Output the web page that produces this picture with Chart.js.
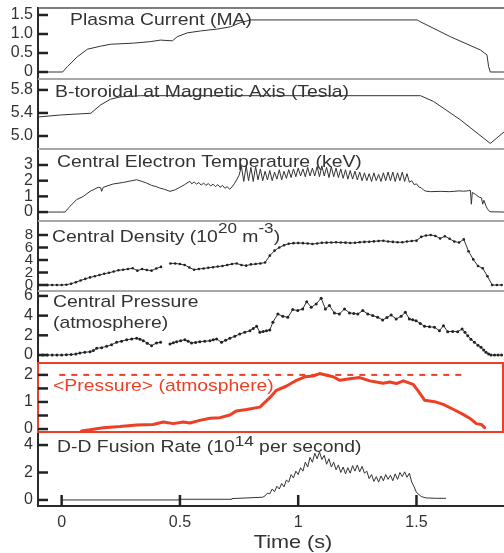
<!DOCTYPE html>
<html>
<head>
<meta charset="utf-8">
<title>Plasma discharge traces</title>
<script src="https://cdn.jsdelivr.net/npm/chart.js@4/dist/chart.umd.min.js"></script>
<style>
  html, body { margin: 0; padding: 0; background: #fff; }
  canvas { display: block; }
</style>
</head>
<body>
<canvas id="chart" width="504" height="553"></canvas>
<script>
// Data (time in seconds)

// Plasma current (MA)
const tCurrent = [-0.1, 0.004, 0.024, 0.066, 0.109, 0.165, 0.207, 0.304, 0.376, 0.418, 0.468, 0.489, 0.531, 0.587, 0.658, 0.714, 0.756, 0.799, 1.503, 1.517, 1.643, 1.77, 1.798, 1.805, 1.812, 1.87];
const vCurrent = [0, 0, 0.14, 0.40, 0.60, 0.68, 0.73, 0.76, 0.80, 0.84, 0.82, 0.93, 1.03, 1.08, 1.13, 1.19, 1.30, 1.37, 1.37, 1.32, 0.93, 0.58, 0.45, 0.14, 0, 0];

// B-toroidal at magnetic axis (T)
const tField = [-0.1, -0.004, 0.123, 0.165, 0.207, 0.249, 0.334, 1.517, 1.572, 1.686, 1.812, 1.87];
const vField = [5.33, 5.365, 5.395, 5.54, 5.64, 5.68, 5.70, 5.70, 5.60, 5.28, 4.87, 5.07];

// Central electron temperature (keV)
const tTemp = [-0.1, 0.0, 0.014, 0.035, 0.063, 0.092, 0.12, 0.155, 0.165, 0.169,
  0.176, 0.218, 0.261, 0.29, 0.317, 0.34, 0.359, 0.38, 0.4, 0.415,
  0.435, 0.458, 0.48, 0.5, 0.52, 0.53, 0.542, 0.55, 0.56, 0.57,
  0.58, 0.59, 0.6, 0.61, 0.62, 0.63, 0.64, 0.65, 0.66, 0.67,
  0.68, 0.69, 0.70, 0.71, 0.72, 0.73, 0.74, 0.75,
  0.76, 0.77, 0.78, 0.79, 0.80, 0.81, 0.82, 0.83, 0.84, 0.85,
  0.86, 0.87, 0.88, 0.89, 0.90, 0.91, 0.92, 0.93, 0.94, 0.95,
  0.96, 0.97, 0.98, 0.99, 1.00, 1.01, 1.02, 1.03, 1.04, 1.05,
  1.06, 1.07, 1.08, 1.09, 1.10, 1.11, 1.12, 1.13, 1.14, 1.15,
  1.16, 1.17, 1.18, 1.19, 1.20, 1.21, 1.22, 1.23, 1.24, 1.25,
  1.26, 1.27, 1.28, 1.29, 1.30, 1.31, 1.32, 1.33, 1.34, 1.35,
  1.36, 1.37, 1.38, 1.39, 1.40, 1.41, 1.42, 1.43, 1.44, 1.45,
  1.46, 1.47,
  1.48, 1.49, 1.50, 1.51, 1.52, 1.53, 1.54, 1.56, 1.60, 1.64,
  1.68, 1.70, 1.72, 1.728, 1.732, 1.736, 1.75, 1.765, 1.775, 1.78,
  1.785, 1.795, 1.80, 1.81, 1.87];
const vTemp = [0, 0, 0, 0.36, 0.79, 1.0, 1.32, 1.58, 1.55, 1.32,
  1.58, 1.79, 1.89, 1.98, 2.06, 1.95, 1.85, 1.7, 1.62, 1.53,
  1.45, 1.32, 1.42, 1.58, 1.75, 1.85, 1.96, 1.8, 1.92, 1.78,
  1.88, 1.72, 1.85, 1.7, 1.82, 1.66, 1.78, 1.62, 1.75, 1.58,
  1.7, 1.52, 1.62, 1.45, 1.6, 1.8, 2.06, 2.35,
  2.9, 1.95, 2.95, 2.0, 2.85, 1.95, 2.9, 2.05, 2.75, 2.0,
  2.6, 2.05, 2.65, 2.0, 2.55, 2.1, 2.7, 2.05, 2.6, 2.15,
  2.7, 2.2, 2.75, 2.25, 2.8, 2.3, 2.75, 2.25, 2.85, 2.3,
  2.8, 2.3, 2.9, 2.25, 2.95, 2.3, 2.85, 2.2, 2.9, 2.25,
  2.8, 2.2, 2.75, 2.15, 2.7, 2.1, 2.65, 2.1, 2.6, 2.05,
  2.55, 2.0, 2.5, 2.0, 2.45, 1.95, 2.5, 2.0, 2.4, 1.95,
  2.5, 2.0, 2.55, 2.0, 2.55, 1.95, 2.5, 2.0, 2.55, 1.95,
  2.45, 1.9,
  2.0, 1.75, 1.8, 1.6, 1.55, 1.4, 1.33, 1.3, 1.32, 1.3,
  1.35, 1.33, 1.36, 1.38, 0.5, 1.25, 1.12, 0.95, 0.9, 0.5,
  0.75, 0.35, 0.2, 0.02, 0];

// Central density (1e20 m^-3)
const tDensity = [-0.06, -0.04, -0.02, 0.00, 0.02, 0.04, 0.06, 0.08, 0.10, 0.12,
  0.14, 0.16, 0.18, 0.20, 0.22, 0.24, 0.26, 0.28, 0.30, 0.32,
  0.34, 0.36, 0.38, 0.40, 0.42, 0.44, 0.46, 0.48, 0.50, 0.52,
  0.54, 0.56, 0.58, 0.60, 0.62, 0.64, 0.66, 0.68, 0.70, 0.72,
  0.74, 0.76, 0.78, 0.80, 0.82, 0.84, 0.86, 0.88, 0.90, 0.92,
  0.94, 0.96, 0.98, 1.00, 1.02, 1.04, 1.06, 1.08, 1.10, 1.12,
  1.14, 1.16, 1.18, 1.20, 1.22, 1.24, 1.26, 1.28, 1.30, 1.32,
  1.34, 1.36, 1.38, 1.40, 1.42, 1.44, 1.46, 1.48, 1.50, 1.52,
  1.54, 1.56, 1.58, 1.60, 1.62, 1.64, 1.66, 1.68, 1.70, 1.72,
  1.74, 1.76, 1.78, 1.80, 1.82, 1.84, 1.86];
const vDensity = [0, 0, 0, 0, 0.05, 0.2, 0.45, 0.72, 0.98, 1.22,
  1.4, 1.6, 1.8, 1.95, 2.15, 2.35, 2.45, 2.55, 2.68, 2.3,
  2.55, 2.4, 2.3, 2.65, 2.9, null, 3.45, 3.45, 3.35, 3.2,
  2.8, 2.45, 2.55, 2.65, 2.75, 2.85, 2.95, 3.05, 3.2, 3.35,
  3.45, 3.2, 3.1, 3.3, 3.35, 3.45, 3.6, 4.7, 5.5, 6.0,
  6.35, 6.6, 6.7, 6.72, 6.7, 6.65, 6.55, 6.65, 6.75, 6.78,
  6.8, 6.83, 6.8, 6.78, 6.72, 6.75, 6.85, 6.9, 6.93, 6.98,
  7.05, 7.09, 6.95, 6.9, 6.85, 6.83, 6.95, 7.05, 7.1, 7.7,
  7.92, 8.0, 7.85, 7.45, 7.8, 7.4, 6.95, 6.8, 7.3, 5.4,
  4.1, 3.05, 2.67, 1.4, 0, 0, 0];

// Central pressure (atm)
const tPressure = [-0.1, -0.08, -0.06, -0.04, -0.02, 0.0, 0.02, 0.04, 0.06, 0.077,
  0.098, 0.12, 0.134, 0.148, 0.169, 0.19, 0.211, 0.232, 0.253, 0.275,
  0.296, 0.317, 0.331, 0.345, 0.362, 0.38, 0.401, 0.418, 0.44, 0.458,
  0.472, 0.486, 0.503, 0.521, 0.535, 0.549, 0.566, 0.584, 0.605, 0.627,
  0.641, 0.655, 0.676, 0.693, 0.711, 0.732, 0.753, 0.774, 0.796, 0.81,
  0.824, 0.838, 0.852, 0.866, 0.88, 0.893, 0.914, 0.935, 0.956, 0.977,
  0.998, 1.019, 1.036, 1.055, 1.076, 1.097, 1.115, 1.132, 1.153, 1.174,
  1.196, 1.217, 1.235, 1.252, 1.273, 1.294, 1.315, 1.336, 1.357, 1.375,
  1.393, 1.414, 1.435, 1.453, 1.47, 1.484, 1.498, 1.516, 1.534, 1.555,
  1.576, 1.597, 1.614, 1.632, 1.653, 1.674, 1.693, 1.705, 1.717, 1.73,
  1.745, 1.76, 1.773, 1.784, 1.794, 1.805, 1.815, 1.83, 1.845, 1.86];
const vPressure = [0, 0, 0, 0, 0, 0, 0.02, 0.05, 0.1, 0.2,
  0.27, 0.34, 0.45, 0.68, 0.75, 0.88, 1.05, 1.29, 1.4, 1.56,
  1.62, 1.70, 1.6, 1.46, 1.2, 0.95, 1.22, 1.29, null, 1.12,
  1.25, 1.36, 1.45, 1.56, 1.4, 1.22, 1.28, 1.36, 1.4, 1.46,
  1.55, 1.63, 1.29, 1.5, 1.70, 1.9, 2.14, 2.3, 2.47, 2.7,
  2.92, 2.31, 2.4, 2.47, 2.55, 3.33, 4.17, 3.93, 3.83, 4.61,
  4.51, 4.68, 5.42, 4.85, 5.19, 5.77, 4.68, 5.02, 4.27, 4.17,
  4.68, 4.27, 4.22, 4.17, 4.51, 4.17, 4.0, 3.83, 3.56, 3.8,
  4.07, 3.66, 3.93, 4.34, 3.66, 3.58, 3.49, 3.2, 2.92, 2.87,
  2.82, 2.47, 2.98, 2.37, 2.4, 2.37, 2.64, 2.3, 1.96, 1.6,
  1.29, 1.0, 0.78, 0.5, 0.27, 0.1, 0, 0, 0, 0];

// Volume averaged <Pressure> (atm) and its reference level
const tAvgPressure = [0.084, 0.12, 0.148, 0.176, 0.246, 0.317, 0.387, 0.43, 0.472, 0.514,
  0.542, 0.584, 0.627, 0.669, 0.711, 0.739, 0.782, 0.838, 0.88, 0.908,
  0.951, 0.993, 1.028, 1.063, 1.091, 1.12, 1.148, 1.176, 1.218, 1.26,
  1.303, 1.359, 1.387, 1.415, 1.444, 1.486, 1.507, 1.535, 1.577, 1.613,
  1.655, 1.697, 1.725, 1.753, 1.774, 1.788];
const vAvgPressure = [-0.07, -0.03, 0.01, 0.05, 0.09, 0.15, 0.17, 0.26, 0.20, 0.26,
  0.22, 0.32, 0.40, 0.42, 0.52, 0.67, 0.72, 0.81, 1.16, 1.43,
  1.59, 1.80, 1.93, 1.96, 2.05, 1.99, 1.93, 1.80, 1.86, 1.90,
  1.78, 1.69, 1.74, 1.68, 1.78, 1.65, 1.41, 1.06, 1.01, 0.91,
  0.73, 0.54, 0.40, 0.20, 0.17, 0.05];
const tRefLevel = [-0.01, 1.71];
const vRefLevel = [2, 2];

// D-D fusion rate (1e14 per second)
const tFusion = [0, 0.5, 0.5, 0.72, 0.72, 0.85,
  0.86, 0.87, 0.88, 0.89, 0.90, 0.91, 0.92, 0.93, 0.94, 0.95,
  0.96, 0.97, 0.98, 0.99, 1.00, 1.01, 1.02, 1.03, 1.04, 1.05,
  1.06, 1.07, 1.08, 1.09, 1.10, 1.11, 1.12, 1.13, 1.14, 1.15,
  1.16, 1.17, 1.18, 1.19, 1.20, 1.21, 1.22, 1.23, 1.24, 1.25,
  1.26, 1.27, 1.28, 1.29, 1.30, 1.31, 1.32, 1.33, 1.34, 1.35,
  1.36, 1.37, 1.38, 1.39, 1.40, 1.41, 1.42, 1.43, 1.44, 1.45,
  1.46, 1.47, 1.48, 1.49,
  1.50, 1.52, 1.54, 1.58, 1.625];
const vFusion = [0, 0, 0.05, 0.05, 0.1, 0.2,
  0.3, 0.5, 0.45, 0.8, 0.6, 1.0, 0.8, 1.2, 0.95, 1.45,
  1.3, 1.85, 1.6, 2.1, 1.85, 2.35, 2.1, 2.75, 2.4, 3.1,
  2.75, 3.4, 3.0, 3.5, 2.95, 3.25, 2.6, 3.0, 2.4, 2.75,
  2.2, 2.55, 2.0, 2.4, 1.9, 2.35, 1.95, 2.5, 2.1, 2.55,
  2.05, 2.45, 1.95, 2.1, 1.55, 1.85, 1.35, 1.7, 1.3, 1.75,
  1.4, 1.85, 1.5, 1.8, 1.4, 1.9, 1.5, 2.0, 1.7, 2.05,
  1.65, 1.95, 1.3, 0.95,
  0.55, 0.25, 0.15, 0.12, 0.12];

// Tick labels
const timeTicks = [0, 0.5, 1, 1.5];
const currentTicks = [0, 0.5, 1.0, 1.5];
const fieldTicks = [5.0, 5.4, 5.8];
const tempTicks = [0, 1, 2, 3];
const densityTicks = [0, 2, 4, 6, 8];
const pressureTicks = [0, 2, 4, 6];
const avgPressureTicks = [0, 0.5, 1, 1.5, 2];
const fusionTicks = [0, 2, 4];

// Style
const FONT = '"Liberation Sans", Arial, Helvetica, sans-serif';
const INK = '#333333';
const RED = '#ec3f26';
const TITLE_STRETCH = 1.14;

function series(ts, vs) {
  return ts.map((t, i) => ({ x: t, y: vs[i] }));
}

function panelAxis(order, height, min, max, ticks, fmt, opts = {}) {
  return {
    type: 'linear',
    position: 'left',
    stack: 'panels',
    stackWeight: height,
    weight: order,
    min: min,
    max: max,
    afterBuildTicks: scale => { scale.ticks = ticks.map(v => ({ value: v })); },
    afterFit: scale => {
      scale.width = 38;
      scale.paddingTop = 0;
      scale.paddingBottom = 0;
    },
    grid: { display: false, drawTicks: false },
    border: { display: true, color: opts.border || '#2a2a2a', width: 2 },
    ticks: {
      autoSkip: false,
      padding: 5,
      color: INK,
      font: { family: FONT, size: opts.fontSize || 16 },
      callback: fmt
    }
  };
}

const PANELS = ['yCurrent', 'yField', 'yTemp', 'yDensity', 'yPressure', 'yAvg', 'yFusion'];

// Panel titles (positions relative to the top of each panel)
const TITLES = [
  { id: 'yCurrent', x: 70, dy: 17, parts: [{ text: 'Plasma Current (MA)' }] },
  { id: 'yField', x: 55, dy: 18, parts: [{ text: 'B-toroidal at Magnetic Axis (Tesla)' }] },
  { id: 'yTemp', x: 57, dy: 18, parts: [{ text: 'Central Electron Temperature (keV)' }] },
  { id: 'yDensity', x: 52, dy: 21, parts: [
    { text: 'Central Density (10' }, { text: '20', size: 15, rise: 9 },
    { text: ' m' }, { text: '-3', size: 15, rise: 9 }, { text: ')' }] },
  { id: 'yPressure', x: 53, dy: 16, parts: [{ text: 'Central Pressure' }] },
  { id: 'yPressure', x: 53, dy: 37, parts: [{ text: '(atmosphere)' }] },
  { id: 'yAvg', x: 53, dy: 28, color: RED, parts: [{ text: '<Pressure> (atmosphere)' }] },
  { id: 'yFusion', x: 57, dy: 20, parts: [
    { text: 'D-D Fusion Rate (10' }, { text: '14', size: 15, rise: 6 },
    { text: ' per second)' }] }
];

function measureParts(ctx, parts) {
  let w = 0;
  parts.forEach(p => {
    ctx.font = (p.size || 17) + 'px ' + FONT;
    w += ctx.measureText(p.text).width;
  });
  return w * TITLE_STRETCH;
}

function drawTitle(ctx, x, y, parts, color) {
  ctx.save();
  ctx.fillStyle = color;
  ctx.textAlign = 'left';
  ctx.textBaseline = 'alphabetic';
  ctx.translate(x, y);
  ctx.scale(TITLE_STRETCH, 1);
  let cx = 0;
  parts.forEach(p => {
    ctx.font = (p.size || 17) + 'px ' + FONT;
    ctx.fillText(p.text, cx, -(p.rise || 0));
    cx += ctx.measureText(p.text).width;
  });
  ctx.restore();
}

const panelDecor = {
  id: 'panelDecor',
  beforeDatasetsDraw(chart) {
    const { ctx, chartArea: a } = chart;
    ctx.save();
    PANELS.forEach((id, i) => {
      const s = chart.scales[id];
      ctx.strokeStyle = i === 0 ? '#555555' : '#a8a8a8';
      ctx.lineWidth = i === 0 ? 1.5 : 2;
      ctx.beginPath();
      ctx.moveTo(a.left, s.top);
      ctx.lineTo(a.right, s.top);
      ctx.stroke();
    });
    const r = chart.scales.yAvg;
    ctx.strokeStyle = RED;
    ctx.lineWidth = 2;
    ctx.strokeRect(a.left, r.top, a.right - a.left - 1, r.bottom - r.top);
    ctx.restore();
  },
  afterDatasetsDraw(chart) {
    const { ctx, chartArea: a } = chart;
    ctx.save();
    ctx.strokeStyle = '#222222';
    ctx.lineWidth = 2.5;
    // tick marks point into the plot
    PANELS.forEach(id => {
      const s = chart.scales[id];
      s.ticks.forEach(t => {
        const y = s.getPixelForValue(t.value);
        ctx.beginPath();
        ctx.moveTo(a.left, y);
        ctx.lineTo(a.left + 10, y);
        ctx.stroke();
      });
    });
    const xs = chart.scales.x;
    xs.ticks.forEach(t => {
      const x = xs.getPixelForValue(t.value);
      ctx.beginPath();
      ctx.moveTo(x, a.bottom);
      ctx.lineTo(x, a.bottom - 11);
      ctx.stroke();
    });
    ctx.restore();

    TITLES.forEach(t => {
      const s = chart.scales[t.id];
      drawTitle(ctx, t.x, s.top + t.dy, t.parts, t.color || INK);
    });

    // x axis title, centred a little right of the axis middle as in the original
    const xTitle = [{ text: 'Time (s)', size: 19 }];
    const w = measureParts(ctx, xTitle);
    drawTitle(ctx, 293 - w / 2, xs.bottom - 5, xTitle, INK);
  }
};

const oneDecimal = v => (v === 0 ? '0' : v.toFixed(1));
const plain = v => String(v);

new Chart(document.getElementById('chart'), {
  type: 'line',
  data: {
    datasets: [
      { data: series(tCurrent, vCurrent), yAxisID: 'yCurrent', borderColor: INK, borderWidth: 1 },
      { data: series(tField, vField), yAxisID: 'yField', borderColor: INK, borderWidth: 1 },
      { data: series(tTemp, vTemp), yAxisID: 'yTemp', borderColor: INK, borderWidth: 1 },
      { data: series(tDensity, vDensity), yAxisID: 'yDensity', borderColor: INK, borderWidth: 1,
        pointRadius: 1.3, pointBorderWidth: 0, pointBackgroundColor: '#222222' },
      { data: series(tPressure, vPressure), yAxisID: 'yPressure', borderColor: INK, borderWidth: 1,
        pointRadius: 1.5, pointBorderWidth: 0, pointBackgroundColor: '#222222' },
      { data: series(tRefLevel, vRefLevel), yAxisID: 'yAvg', borderColor: RED, borderWidth: 2,
        borderDash: [6, 6] },
      { data: series(tAvgPressure, vAvgPressure), yAxisID: 'yAvg', borderColor: RED, borderWidth: 3,
        borderJoinStyle: 'round', borderCapStyle: 'round' },
      { data: series(tFusion, vFusion), yAxisID: 'yFusion', borderColor: INK, borderWidth: 1 }
    ]
  },
  options: {
    responsive: false,
    animation: false,
    spanGaps: false,
    layout: { autoPadding: false, padding: { top: 8, left: 0, right: 0, bottom: 0 } },
    elements: {
      point: { radius: 0, hoverRadius: 0 },
      line: { tension: 0 }
    },
    plugins: {
      legend: { display: false },
      tooltip: { enabled: false }
    },
    scales: {
      x: {
        type: 'linear',
        position: 'bottom',
        min: -0.1,
        max: 1.87,
        afterBuildTicks: scale => { scale.ticks = timeTicks.map(v => ({ value: v })); },
        afterFit: scale => {
          scale.height = 47;
          scale.paddingLeft = 0;
          scale.paddingRight = 0;
        },
        grid: { display: false, drawTicks: false },
        border: { display: true, color: '#2a2a2a', width: 2 },
        ticks: {
          autoSkip: false,
          maxRotation: 0,
          padding: 7,
          color: INK,
          font: { family: FONT, size: 16 },
          callback: plain
        },
        title: { display: false }
      },
      yCurrent: panelAxis(7, 71, -0.184, 1.684, currentTicks, oneDecimal),
      yField: panelAxis(6, 70, 4.774, 5.99, fieldTicks, v => v.toFixed(1)),
      yTemp: panelAxis(5, 72, -0.57, 4.02, tempTicks, plain),
      yDensity: panelAxis(4, 70, -0.96, 10.24, densityTicks, plain, { fontSize: 15 }),
      yPressure: panelAxis(3, 72, -0.81, 6.5, pressureTicks, plain),
      yAvg: panelAxis(2, 69, -0.11, 2.44, avgPressureTicks,
        v => ([0, 1, 2].includes(v) ? String(v) : ''), { border: RED }),
      yFusion: panelAxis(1, 74, -0.44, 4.95, fusionTicks, plain)
    }
  },
  plugins: [panelDecor]
});
</script>
</body>
</html>
